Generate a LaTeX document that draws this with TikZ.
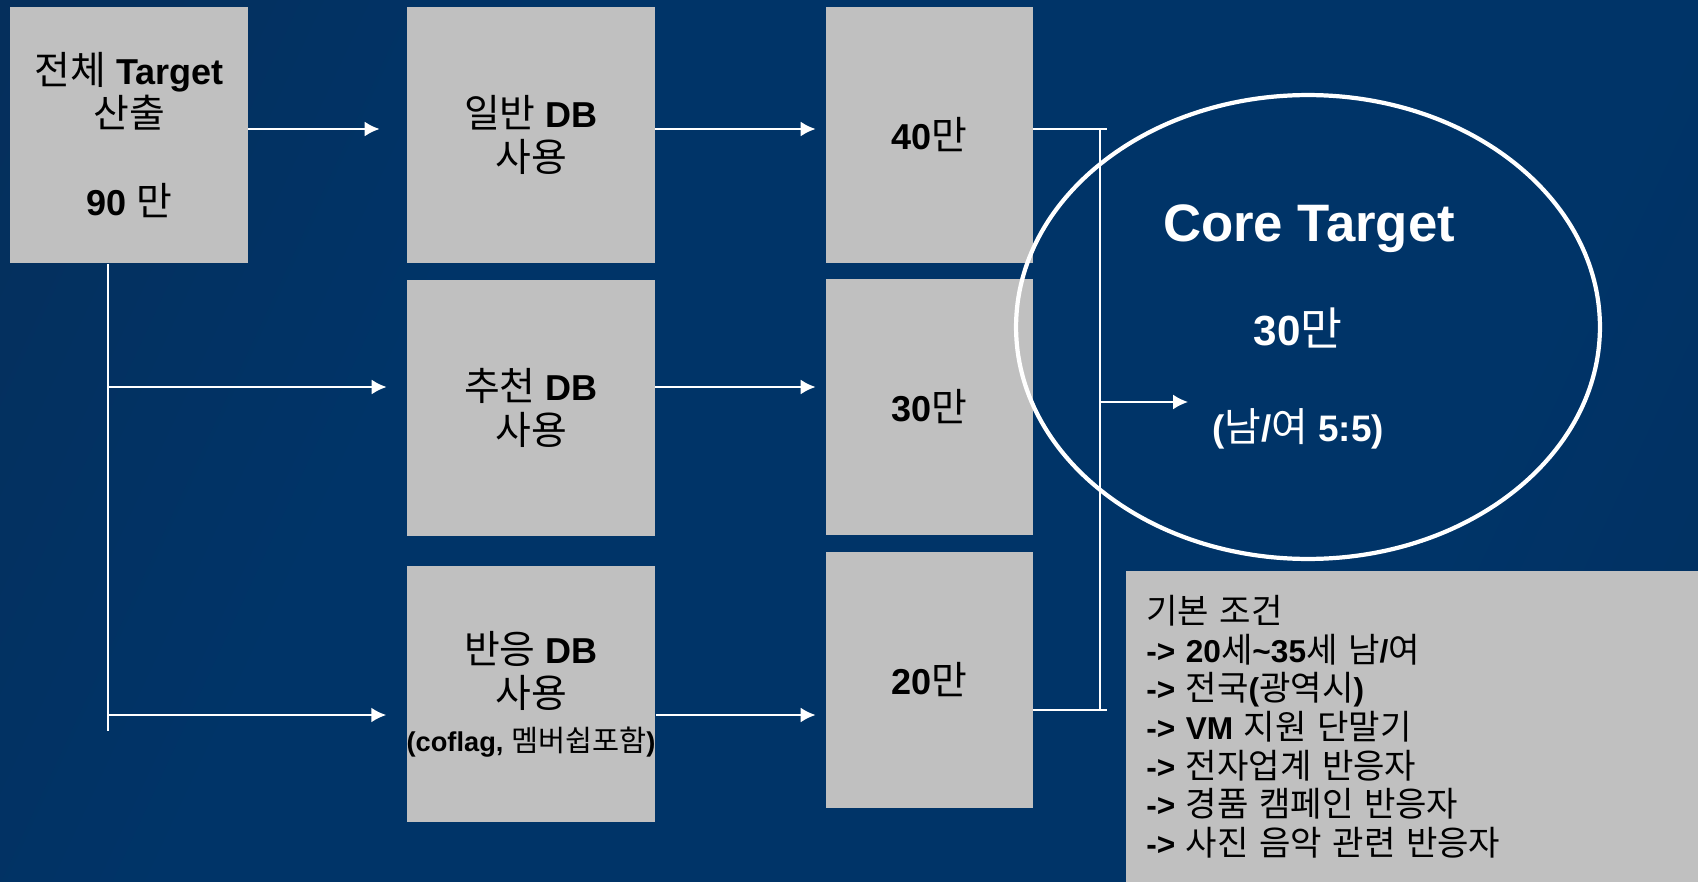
\documentclass[tikz,border=0pt]{standalone}
\usepackage{fontspec}
\setmainfont{Liberation Sans}
\newfontfamily\krfont[Scale=1.08]{Noto Sans CJK KR}
\newcommand\hg[1]{{\krfont\mdseries #1}}
\usetikzlibrary{arrows.meta,positioning,shapes.geometric}
\usepackage{xcolor}
\definecolor{bgdeep}{HTML}{0A2A50}
\definecolor{bgmain}{HTML}{003468}
\definecolor{bgright}{HTML}{052B56}
\definecolor{cellgray}{HTML}{C0C0C0}
\pgfdeclarehorizontalshading{backdrop}{100bp}{
    color(0bp)=(bgdeep); color(35bp)=(bgmain); color(70bp)=(bgmain); color(100bp)=(bgright)
}
\tikzset{
    cell/.style={
        fill=cellgray,inner sep=0pt,align=center,text=black,
        minimum height=5.14cm,font=\fontsize{20.5}{25}\selectfont\bfseries
    },
    flow/.style={
        -{Latex[length=3mm,width=3mm]},draw=white,line width=1.4pt
    },
    brace/.style={draw=white,line width=1pt},
    corelabel/.style={text=white,inner sep=0pt,font=\bfseries}
}

\begin{document}
\begin{tikzpicture}[x=0.02cm,y=-0.02cm]

\shade[shading=backdrop,shading angle=-25] (0,0) rectangle (1698,882);
\useasboundingbox (0,0) rectangle (1698,882);

\node[cell,minimum width=4.76cm] (total) at (129,135)
{\hg{전체} Target\\\hg{산출}\\[25pt]90 \hg{만}};

\node[cell,minimum width=4.96cm] (normal) at (531,135)
{\hg{일반} DB\\\hg{사용}};
\node[cell,minimum width=4.96cm] (recom) at (531,408)
{\hg{추천} DB\\\hg{사용}};
\node[cell,minimum width=4.96cm] (resp) at (531,694)
{\hg{반응} DB\\\hg{사용}\\{\fontsize{15.5}{22}\selectfont (coflag, \hg{멤버쉽포함})}};

\node[cell,minimum width=4.14cm] (n40) at (929.5,135) {40\hg{만}};
\node[cell,minimum width=4.14cm] (n30) at (929.5,407) {30\hg{만}};
\node[cell,minimum width=4.14cm] (n20) at (929.5,680) {20\hg{만}};

\node[
draw=white,line width=2.4pt,ellipse,inner sep=0pt,
minimum width=11.68cm,minimum height=9.28cm
]
(core) at (1308,327) {};

\node[corelabel,font=\fontsize{30}{36}\selectfont\bfseries] (coretitle) at (1309,229) {Core Target};
\node[corelabel,font=\fontsize{24}{28}\selectfont\bfseries] (coresize) at (1298,328) {30\hg{만}};
\node[corelabel,font=\fontsize{21}{26}\selectfont\bfseries] (coreratio) at (1298,429)
{(\hg{남}/\hg{여} 5:5)};

\node[
fill=cellgray,anchor=north west,inner xsep=0.4cm,inner ysep=0pt,
text width=10.64cm,minimum height=6.22cm,align=left,
font=\fontsize{18}{22}\selectfont\bfseries
]
(cond) at (1126,571)
{
\hg{기본 조건}\\
-> 20\hg{세}\textasciitilde35\hg{세 남}/\hg{여}\\
-> \hg{전국}(\hg{광역시})\\
-> VM \hg{지원 단말기}\\
-> \hg{전자업계 반응자}\\
-> \hg{경품 캠페인 반응자}\\
-> \hg{사진 음악 관련 반응자}
};

\coordinate (r1) at (0,129);
\coordinate (r2) at (0,387);
\coordinate (r3) at (0,715);
\coordinate (trunk) at (108,731);

\draw[flow,shorten >=0.54cm] (total.east |- r1) -- (normal.west |- r1);
\draw[white,line width=1.4pt] (total.south -| trunk) -- (trunk);
\draw[flow,shorten >=0.4cm] (trunk |- r2) -- (recom.west |- r2);
\draw[flow,shorten >=0.4cm] (trunk |- r3) -- (resp.west |- r3);

\draw[flow,shorten >=0.2cm] (normal.east |- r1) -- (n40.west |- r1);
\draw[flow,shorten >=0.2cm] (recom.east |- r2) -- (n30.west |- r2);
\draw[flow,shorten >=0.2cm] (resp.east |- r3) -- (n20.west |- r3);

\coordinate (bt) at (1107,129);
\coordinate (bb) at (1107,710);
\coordinate (bx) at (1100,0);
\coordinate (goal) at (1188,402);
\draw[brace] (n40.east |- bt) -- (bt);
\draw[brace] (n20.east |- bb) -- (bb);
\draw[brace] (bx |- bt) -- (bx |- bb);
\draw[flow,line width=1pt] (bx |- goal) -- (goal);

\end{tikzpicture}
\end{document}
